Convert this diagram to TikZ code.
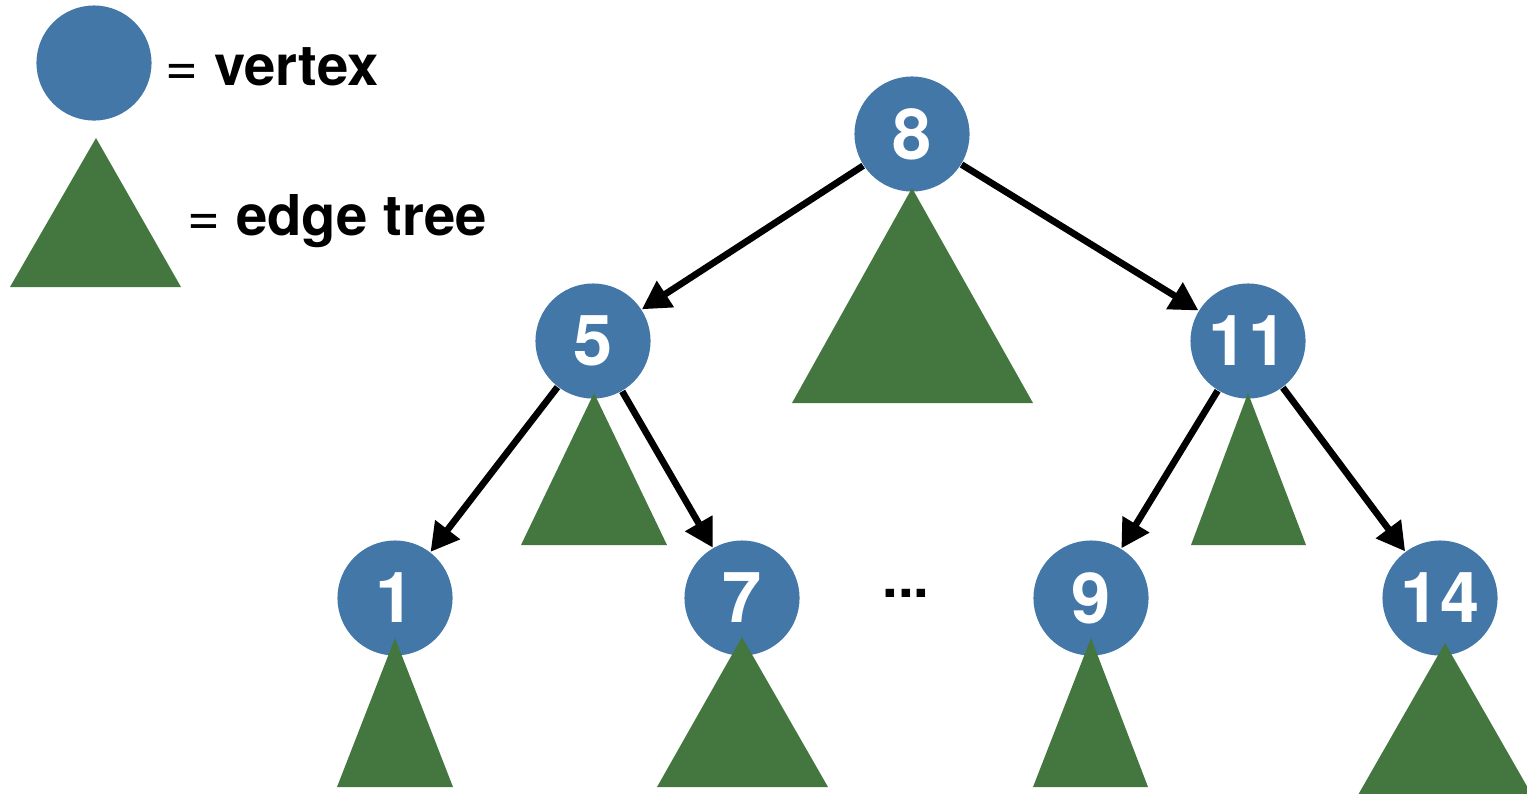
\documentclass[tikz,border=0pt]{standalone}
\usepackage{fontspec}
\setmainfont{TeX Gyre Heros}
\usepackage{tikz}
\usetikzlibrary{arrows.meta,positioning}

\definecolor{vertexblue}{HTML}{4277A8}
\definecolor{treegreen}{HTML}{44773F}

\tikzset{
	vertex/.style={circle,fill=vertexblue,minimum size=1.15cm,inner sep=0pt,
		text=white,font=\fontsize{20}{23}\selectfont\bfseries},
	edgetree/.style={fill=treegreen},
	link/.style={line width=1.9pt,-{Triangle[length=8pt,width=8.5pt]}},
	legend/.style={anchor=base west,inner sep=0pt,font=\fontsize{16}{19}\selectfont}
}

\begin{document}
\begin{tikzpicture}[x=0.01cm,y=-0.01cm]
	\useasboundingbox (0,0) rectangle (1527,793);

	% legend
	\node [vertex] (keyvertex) at (94,63) {};
	\fill [edgetree] (96,138) -- (181,287) -- (10,287) -- cycle;
	\node [legend] (keyvertextext) at (165,85) {= \textbf{vertex}};
	\node [legend] (keytreetext) at (187,235) {= \textbf{edge tree}};

	% vertices
	\node [vertex] (v8) at (912,134) {8};
	\node [vertex] (v5) at (593,341) {5};
	\node [vertex] (v11) at (1248,341) {11};
	\node [vertex] (v1) at (395,598) {1};
	\node [vertex] (v7) at (742,598) {7};
	\node [vertex] (v9) at (1091,598) {9};
	\node [vertex] (v14) at (1440,598) {14};
	\node [anchor=base,inner sep=0pt,font=\fontsize{16}{19}\selectfont\bfseries] (dots) at (906,597) {...};

	% edge trees
	\fill [edgetree] (912,188) -- (1033,403) -- (792,403) -- cycle;
	\fill [edgetree] (594,393) -- (667,545) -- (521,545) -- cycle;
	\fill [edgetree] (1248,393) -- (1306,545) -- (1191,545) -- cycle;
	\fill [edgetree] (395,638) -- (453,787) -- (337,787) -- cycle;
	\fill [edgetree] (742,637) -- (828,787) -- (657,787) -- cycle;
	\fill [edgetree] (1091,638) -- (1148,787) -- (1033,787) -- cycle;
	\fill [edgetree] (1445,643) -- (1532,795) -- (1358,795) -- cycle;

	% links
	\draw [link] (v8) -- (v5);
	\draw [link] (v8) -- (v11);
	\draw [link] (v5) -- (v1);
	\draw [link] (v5) -- (v7);
	\draw [link] (v11) -- (v9);
	\draw [link] (v11) -- (v14);
\end{tikzpicture}
\end{document}
